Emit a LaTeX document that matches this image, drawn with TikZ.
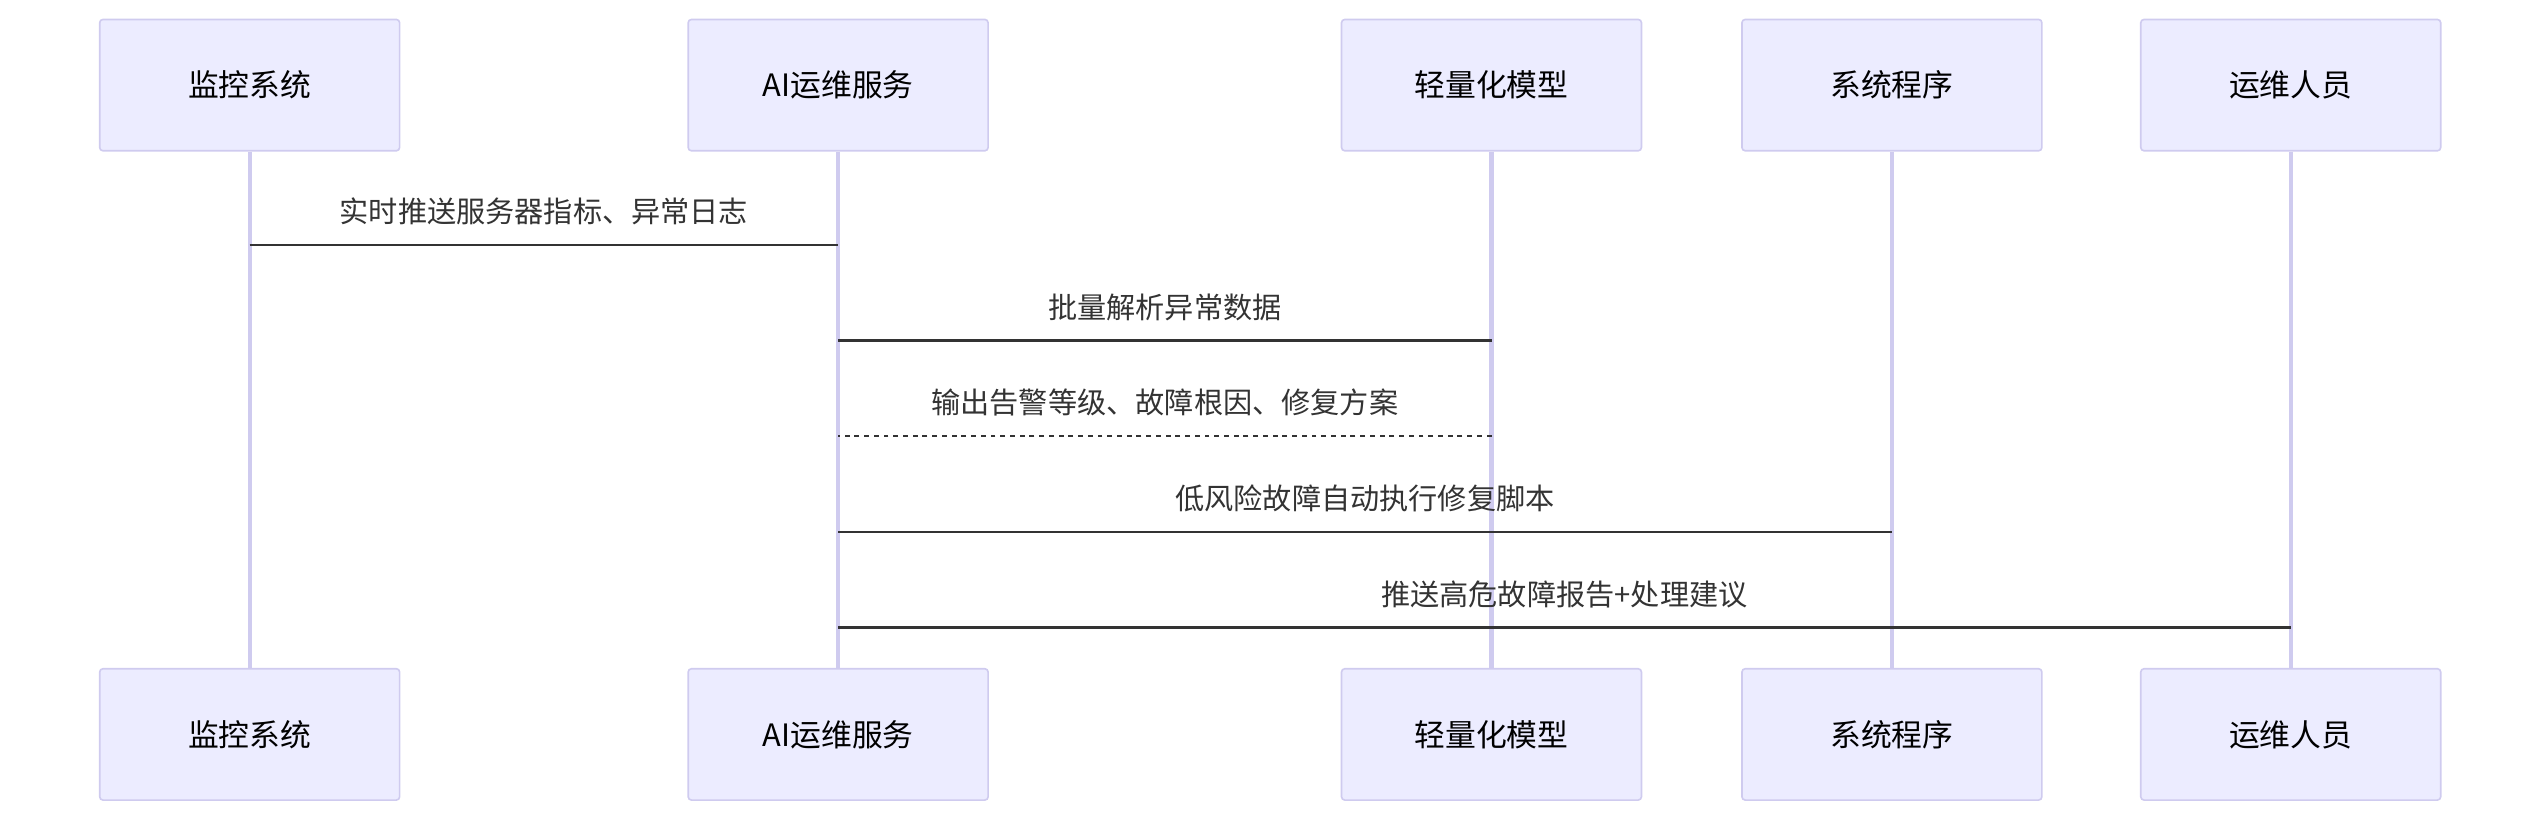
\documentclass[tikz,border=0pt]{standalone}
\usepackage{fontspec}
\setmainfont{Noto Sans CJK SC}
\definecolor{actfill}{HTML}{ECECFF}
\definecolor{actline}{HTML}{CFCBEF}
\definecolor{msgline}{HTML}{333333}
\tikzset{
  actor/.style={draw=actline, fill=actfill, rounded corners=2pt, line width=1pt,
    minimum width=185pt, minimum height=81pt, font=\fontsize{19}{22}\selectfont},
  life/.style={draw=actline, line width=2.5pt},
  msg/.style={draw=msgline, line width=1.5pt},
  reply/.style={msg, dash pattern=on 3pt off 3pt},
  lbl/.style={font=\fontsize{18}{21}\selectfont, text=msgline, above=8pt}
}
\begin{document}
\begin{tikzpicture}[x=1pt,y=-1pt]
\useasboundingbox (0,0) rectangle (1568,507);

% participants, top and bottom
\foreach \n/\x/\t in {mon/154/监控系统, ai/517/AI运维服务, mdl/920/轻量化模型,
                      sys/1167/系统程序, ops/1413/运维人员} {
  \node[actor] (\n-top) at (\x,52.5) {\t};
  \node[actor] (\n-bot) at (\x,453) {\t};
  \draw[life] (\n-top.south) -- (\n-bot.north);
}

% messages
\coordinate (m1a) at (mon-top.south |- 0,151);
\coordinate (m1b) at (ai-top.south |- 0,151);
\draw[msg] (m1a) -- node[lbl] {实时推送服务器指标、异常日志} (m1b);

\coordinate (m2a) at (ai-top.south |- 0,210);
\coordinate (m2b) at (mdl-top.south |- 0,210);
\draw[msg] (m2a) -- node[lbl] {批量解析异常数据} (m2b);

\coordinate (m3a) at (mdl-top.south |- 0,269);
\coordinate (m3b) at (ai-top.south |- 0,269);
\draw[reply] (m3a) -- node[lbl] {输出告警等级、故障根因、修复方案} (m3b);

\coordinate (m4a) at (ai-top.south |- 0,328);
\coordinate (m4b) at (sys-top.south |- 0,328);
\draw[msg] (m4a) -- node[lbl] {低风险故障自动执行修复脚本} (m4b);

\coordinate (m5a) at (ai-top.south |- 0,387);
\coordinate (m5b) at (ops-top.south |- 0,387);
\draw[msg] (m5a) -- node[lbl] {推送高危故障报告+处理建议} (m5b);

\end{tikzpicture}
\end{document}
